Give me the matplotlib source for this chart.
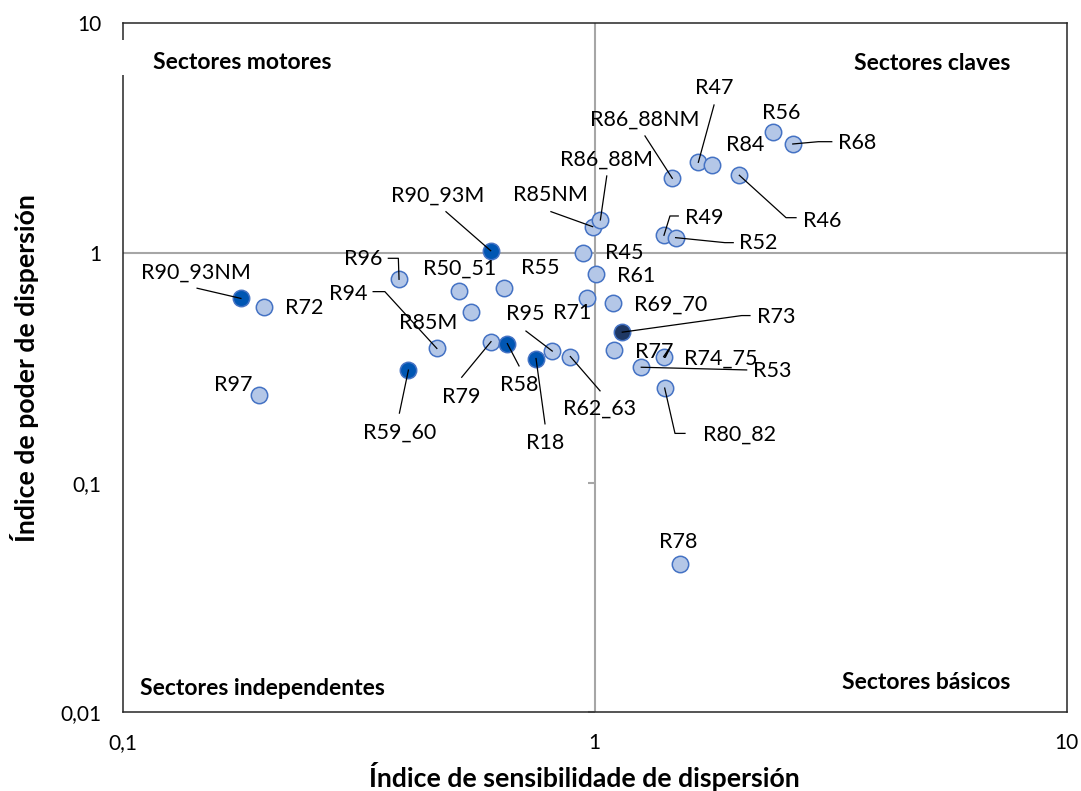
import numpy as np
import matplotlib.pyplot as plt
from matplotlib.patches import Rectangle
from matplotlib.ticker import NullLocator

plt.rcParams['font.family'] = ['Lato', 'DejaVu Sans']

# sectores: indice de sensibilidad (x) y de poder (y) de dispersión
sectores = ["R90_93NM", "R72", "R97", "R96", "R59_60", "R94", "R85M", "R50_51",
            "R55", "R79", "R58", "R18", "R95", "R62_63", "R90_93M", "R45",
            "R85NM", "R86_88M", "R61", "R71", "R69_70", "R73", "R74_75", "R53",
            "R77", "R80_82", "R86_88NM", "R47", "R84", "R56", "R68", "R46",
            "R49", "R52", "R78"]
sensibilidad = [0.178, 0.199, 0.194, 0.385, 0.403, 0.463, 0.546, 0.516,
                0.643, 0.603, 0.653, 0.751, 0.813, 0.888, 0.602, 0.946,
                0.990, 1.028, 1.005, 0.965, 1.092, 1.144, 1.099, 1.255,
                1.400, 1.407, 1.460, 1.658, 1.770, 2.390, 2.628, 2.025,
                1.402, 1.484, 1.516]
poder = [0.634, 0.580, 0.241, 0.768, 0.309, 0.384, 0.552, 0.685,
         0.702, 0.411, 0.403, 0.347, 0.374, 0.354, 1.023, 1.003,
         1.302, 1.392, 0.808, 0.637, 0.604, 0.452, 0.377, 0.318,
         0.354, 0.258, 2.115, 2.482, 2.409, 3.364, 2.982, 2.179,
         1.194, 1.166, 0.0441]
grupo = ["oscuro", "claro", "claro", "claro", "oscuro", "claro", "claro", "claro",
         "claro", "claro", "oscuro", "oscuro", "claro", "claro", "oscuro", "claro",
         "claro", "claro", "claro", "claro", "claro", "marino", "claro", "claro",
         "claro", "claro", "claro", "claro", "claro", "claro", "claro", "claro",
         "claro", "claro", "claro"]

colores = {"claro": "#B4C7E7", "oscuro": "#0056B3", "marino": "#1F3864"}

# posición de etiquetas (px respecto al punto, y hacia abajo)
etiqueta_px = {
    "R90_93NM": (-44.5, -25.8), "R72": (40, 1), "R97": (-25, -10),
    "R96": (-36, -20), "R59_60": (-9, 62.4), "R94": (-89, -54.5),
    "R85M": (-42.4, 10.4), "R50_51": (0.3, -22.4), "R55": (35.7, -20),
    "R79": (-30, 55), "R58": (11.7, 41.3), "R18": (9, 84),
    "R95": (-27.3, -37), "R62_63": (29, 52.6), "R90_93M": (-52.7, -54.7),
    "R45": (40.7, 0.6), "R85NM": (-42.7, -31.7), "R86_88M": (6.4, -60),
    "R61": (40.3, 1.7), "R71": (-15.6, 14.7), "R69_70": (58, 1.7),
    "R73": (153.7, -15), "R74_75": (107, 8), "R53": (131.4, 3.7),
    "R77": (-9.4, -5), "R80_82": (75, 47), "R86_88NM": (-27.3, -59),
    "R47": (15.7, -74), "R84": (33.3, -20.3), "R56": (7.4, -19.3),
    "R68": (64, -1.3), "R46": (82.4, 45.4), "R49": (40.3, -17),
    "R52": (82.6, 5.6), "R78": (-1.7, -22.6),
}
# lineas guía (vértices en px respecto al punto)
guias = {
    "R90_93NM": [(-43.8, -10.2)],
    "R96": [(-10.7, -21), (-0.7, -21)],
    "R94": [(-63.7, -56.8), (-52, -56.8)],
    "R59_60": [(-9, 43)],
    "R90_93M": [(-44.7, -39)],
    "R85NM": [(-41.7, -15)],
    "R86_88M": [(6.4, -44)],
    "R86_88NM": [(-27.3, -42.3)],
    "R47": [(15.7, -57.3)],
    "R68": [(39, -2.3), (25.6, -2.3)],
    "R46": [(56.7, 42.4), (46.7, 42.4)],
    "R49": [(14.3, -19.3), (6, -19.3)],
    "R52": [(57.6, 5), (49.3, 5)],
    "R73": [(127.7, -16.6), (119.4, -16.6)],
    "R95": [(-26.3, -20)],
    "R79": [(-29.3, 35.6)],
    "R58": [(11.7, 22.3)],
    "R18": [(9, 65.3)],
    "R62_63": [(29.7, 34.3)],
    "R77": [(4.6, -6.7)],
    "R53": [(105.4, 2.7)],
    "R80_82": [(20.3, 45.3), (10.3, 45.3)],
}

fig = plt.figure(figsize=(10.81, 7.91), dpi=100)
ax = fig.add_axes([122.7 / 1081, (791 - 712.3) / 791, 944 / 1081, 689 / 791])
ax.set_xscale("log")
ax.set_yscale("log")
ax.set_xlim(0.1, 10)
ax.set_ylim(0.01, 10)
ax.set_xticks([0.1, 1, 10])
ax.set_xticklabels(["0,1", "1", "10"])
ax.set_yticks([0.01, 0.1, 1, 10])
ax.set_yticklabels(["0,01", "0,1", "1", "10"])
ax.xaxis.set_minor_locator(NullLocator())
ax.yaxis.set_minor_locator(NullLocator())
ax.tick_params(length=0, pad=15, labelsize=15, colors="#000000")
for s in ax.spines.values():
    s.set_linewidth(1.1)
    s.set_color("#262626")

ax.axvline(1, color="#A6A6A6", lw=1.5, zorder=1)
ax.axhline(1, color="#A6A6A6", lw=1.5, zorder=1)
ax.plot([1, 1], [0.1, 0.01], ls="none", marker=0, ms=5, mew=1.5, color="#A6A6A6", zorder=1)

x = np.array(sensibilidad)
y = np.array(poder)
g = np.array(grupo)
for k, c in colores.items():
    m = g == k
    ax.plot(x[m], y[m], "o", ms=11.8, mfc=c, mec="#4472C4", mew=1.1, zorder=3)

for i, nombre in enumerate(sectores):
    dx, dy = etiqueta_px[nombre]
    ax.annotate(nombre, (x[i], y[i]), xytext=(dx, -dy), textcoords="offset pixels",
                ha="center", va="center", fontsize=15.5, zorder=5)

for nombre, verts in guias.items():
    i = sectores.index(nombre)
    px, py = ax.transData.transform((x[i], y[i]))
    pts = [(px + dx, py - dy) for dx, dy in verts] + [(px, py)]
    d = ax.transData.inverted().transform(pts)
    ax.plot(d[:, 0], d[:, 1], color="black", lw=0.9, zorder=4)

# cuadrantes
ax.text(0.032, 0.9435, "Sectores motores", transform=ax.transAxes, fontsize=16.5,
        fontweight="bold", ha="left", va="center")
ax.text(0.94, 0.9415, "Sectores claves", transform=ax.transAxes, fontsize=16.5,
        fontweight="bold", ha="right", va="center")
ax.text(0.0183, 0.0339, "Sectores independentes", transform=ax.transAxes, fontsize=16.5,
        fontweight="bold", ha="left", va="center")
ax.text(0.94, 0.0426, "Sectores básicos", transform=ax.transAxes, fontsize=16.5,
        fontweight="bold", ha="right", va="center")
ax.add_patch(Rectangle((-0.006, 0.925), 0.012, 0.051, transform=ax.transAxes,
                       facecolor="white", edgecolor="none", clip_on=False, zorder=10))

ax.set_xlabel("Índice de sensibilidade de dispersión", fontsize=19.2, fontweight="bold")
ax.set_ylabel("Índice de poder de dispersión", fontsize=19.2, fontweight="bold")
ax.xaxis.set_label_coords(0.4887, -0.0925)
ax.xaxis.label.set_va("center")
ax.yaxis.set_label_coords(-0.1035, 0.5)
ax.yaxis.label.set_va("center")

fig.savefig("out.png", dpi=100)
